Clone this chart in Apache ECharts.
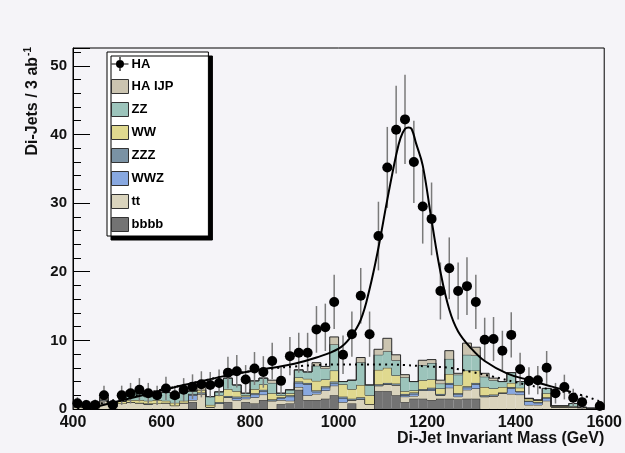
<!DOCTYPE html>
<html style="height: 100%">
<head>
  <meta charset="utf-8">
</head>
<body style="height: 100%; margin: 0; background: #f5f4f8">
  <div id="container" style="width: 625px; height: 453px"></div>
  <script src="https://cdn.jsdelivr.net/npm/echarts@6/dist/echarts.min.js"></script>
  <script>
    // bins: 20 GeV wide, 400 .. 1600
    var binLow = [];
    for (var e = 400; e < 1600; e += 20) binLow.push(e);
    var binWidth = 20;

    // stacked backgrounds, bottom to top
    var bbbb = [0,0,0,0,0,0,0,0,0,0, 0,0,0,1.0,0,0,0,1.0,0,1.0, 0.8,1.3,0,0.7,0.8,2.8,1.3,1.3,1.5,2.0, 0,0.8,0,0,2.6,2.6,2.0,1.0,1.5,1.5, 1.3,1.5,1.5,1.4,1.5,1.5,0,0,0,0, 0,0,0,0,0,0,0,0,0,0];
    var tt = [0.3,0.25,0.2,1.2,0.4,0.8,1.0,0.9,0.7,0.8, 0.9,0.5,0.9,0.3,2.2,0.3,0.8,0.7,1.3,0.5, 0.9,0.8,1.2,0.6,0.4,0.4,0.7,0.9,1.2,1.4, 1.0,0.5,1.4,0.7,0.8,1.0,1.5,0.8,0.4,1.2, 1.4,0.5,1.6,0.4,1.3,1.5,1.8,1.9,2.3,2.2, 2.1,0.6,0.6,1.2,0.3,0.3,0.3,0.2,0.1,0.1];
    var wwz = [0,0,0,0,0,0,0,0,0,0, 0,0,0,0.7,0,0,0,0,0.3,0.3, 0.4,0.5,0,0.3,0.6,0.6,1.6,0.3,0.4,0.3, 0.6,0,0,0,0,0,0,0.2,0.3,0, 0.2,0,0.5,0.3,0.3,0.6,0,0,0,0.8, 0.4,0.5,0.3,0.4,0,0,0,0,0,0];
    var zzz = [0,0,0,0.1,0,0,0,0,0.1,0, 0,0,0,0.2,0.2,0,0.2,0.2,0.2,0, 0.2,0.2,0.2,0.1,0.2,0.2,0.2,0.2,0.2,0.3, 0.2,0.2,0.3,0,0.2,0.2,0.2,0.2,0.2,0.2, 0.2,0.2,0.2,0.2,0.2,0.2,0.2,0.2,0.1,0.2, 0.1,0.1,0.1,0.1,0,0,0,0,0,0];
    var ww = [0.15,0.1,0.1,0.1,0.2,0.3,0.3,0.4,0.4,0.5, 0.3,0.4,0.3,0,0.4,0.3,1.0,1.0,0.8,0.2, 0.6,0.8,0.9,0.3,0.3,0.6,0.6,1.4,1.0,1.6, 1.8,1.4,1.8,1.3,2.1,2.2,1.2,0.4,0.3,1.3, 1.2,0.8,1.3,1.2,2.3,1.8,1.2,0.9,0.8,0.6, 0.5,0.3,0.3,0.6,0.15,0.15,0.1,0.05,0,0];
    var zz = [0,0,0,0,0,0,1.3,1.45,0.6,1.0, 1.2,0.7,1.3,0.4,0,1.2,0.5,1.6,0.9,0.3, 1.2,0.9,1.5,0.3,0.5,1.1,1.0,2.2,1.6,3.8, 0.4,1.3,3.3,1.5,2.2,2.4,2.2,2.0,1.3,2.2, 2.4,0.7,2.2,1.5,2.3,2.2,1.5,1.2,0.8,1.5, 0.9,0.05,0,0.7,0,0,0.4,0,0,0];
    var haIjp = [0,0,0,0.3,0,0,0,0,0,0, 0,0,0,0,0.5,0,0,0,0,0, 0,0,0.4,0,0,0,0,0.45,0.3,1.1, 0,0,0.7,0,0.8,1.9,0.8,0.4,0,0.7, 0.5,0.5,1.2,0.2,1.7,1.2,0.5,0.3,0,0, 0,0,0,0,0,0,0,0,0,0];

    // HA data points at bin centres, with errors
    var haMass = [410,430,450,470,490,510,530,550,570,590, 610,630,650,670,690,710,730,750,770,790, 810,830,850,870,890,910,930,950,970,990, 1010,1030,1050,1070,1090,1110,1130,1150,1170,1190, 1210,1230,1250,1270,1290,1310,1330,1350,1370,1390, 1410,1430,1450,1470,1490,1510,1530,1550,1570,1590];
    var haVal = [0.83,0.58,0.6,2.0,0.6,2.0,2.3,2.8,2.3,2.0, 3.0,2.0,2.8,3.25,3.6,3.5,3.8,5.3,5.5,4.3, 5.9,5.4,7.0,4.1,7.7,8.2,8.2,11.6,11.9,15.6, 7.9,10.9,16.5,10.9,25.2,35.2,40.7,42.2,36.0,29.5, 27.7,17.2,20.5,17.2,17.9,15.6,10.1,10.2,8.5,10.8, 5.8,4.1,4.2,6.0,2.3,3.2,1.65,1.0,null,0.45];
    var haErr = [0.9,0.75,0.77,1.4,0.77,1.4,1.5,1.7,1.5,1.4, 1.7,1.4,1.7,1.8,1.9,1.9,1.95,2.3,2.35,2.1, 2.4,2.3,2.65,2.0,2.8,2.9,2.9,3.4,3.45,3.95, 2.8,3.3,4.05,3.3,5.0,5.9,6.4,6.5,6.0,5.4, 5.3,4.15,4.5,4.15,4.2,3.95,3.2,3.2,2.9,3.3, 2.4,2.0,2.05,2.45,1.5,1.8,1.3,1.0,null,0.67];

    // fitted curves
    var fitMass = [430,450,500,550,600,650,700,750,800,850,900,950,1000,1025,1050,1070,1090,1110,1130,1140,1150,1158,1165,1175,1190,1210,1230,1250,1270,1300,1330,1380,1430,1480,1525];
    var fitVal = [0,0.3,1.1,1.9,2.7,3.5,4.2,4.9,5.5,6.0,6.6,7.5,8.8,10.3,13.0,17.5,23.5,30.5,37.0,39.5,40.8,41.0,40.8,38.7,35.5,27.5,20.0,14.5,11.3,8.8,7.0,5.2,4.2,3.3,2.5];
    var bkgMass = [410,450,500,550,600,650,700,750,800,850,900,950,1000,1050,1100,1150,1200,1250,1300,1350,1400,1450,1500,1550,1590];
    var bkgVal = [0,0.6,1.4,2.1,2.8,3.5,4.2,4.9,5.5,5.9,6.2,6.4,6.5,6.5,6.5,6.4,6.2,6.0,5.4,4.7,3.9,3.2,2.6,2.0,1.1];

    var stackNames = ['bbbb', 'tt', 'WWZ', 'ZZZ', 'WW', 'ZZ', 'HA IJP'];
    var stackData = [bbbb, tt, wwz, zzz, ww, zz, haIjp];
    var stackColors = ['#737373', '#dad4bd', '#88a8e0', '#7a92a4', '#e0d98f', '#9cc4bb', '#cbc4b0'];

    var dom = document.getElementById('container');
    var myChart = echarts.init(dom, null, { renderer: 'canvas' });

    // histogram bin: [xLow, xHigh, base, top, previous bin's top]
    function renderBin(params, api) {
      var x0 = api.value(0), x1 = api.value(1);
      var base = api.value(2), top = api.value(3), prevTop = api.value(4);
      var pBL = api.coord([x0, base]);
      var pTR = api.coord([x1, top]);
      var pPrev = api.coord([x0, prevTop]);
      var children = [];
      if (top > base) {
        children.push({
          type: 'rect',
          shape: { x: pBL[0], y: pTR[1], width: pTR[0] - pBL[0], height: pBL[1] - pTR[1] },
          style: { fill: api.visual('color') }
        });
      }
      children.push({ type: 'line', shape: { x1: pBL[0], y1: pTR[1], x2: pTR[0], y2: pTR[1] }, style: { stroke: '#2a2a2a', lineWidth: 1 } });
      children.push({ type: 'line', shape: { x1: pBL[0], y1: pPrev[1], x2: pBL[0], y2: pTR[1] }, style: { stroke: '#2a2a2a', lineWidth: 1 } });
      return { type: 'group', children: children };
    }

    var series = [];
    var cumulative = binLow.map(function () { return 0; });
    stackData.forEach(function (vals, k) {
      var items = binLow.map(function (x, i) {
        var base = cumulative[i];
        var top = base + vals[i];
        var prevTop = i > 0 ? cumulative[i - 1] + vals[i - 1] : 0;
        return [x, x + binWidth, base, top, prevTop];
      });
      cumulative = cumulative.map(function (c, i) { return c + vals[i]; });
      series.push({
        name: stackNames[k],
        type: 'custom',
        color: stackColors[k],
        renderItem: renderBin,
        clip: true,
        z: 2 + k * 0.01,
        encode: { x: [0, 1], y: [2, 3] },
        data: items
      });
    });

    var points = [];
    haMass.forEach(function (m, i) {
      if (haVal[i] !== null) points.push([m, haVal[i], haErr[i]]);
    });

    series.push({
      name: 'errors',
      type: 'custom',
      clip: true,
      z: 5,
      encode: { x: 0, y: 1 },
      renderItem: function (params, api) {
        var x = api.value(0), y = api.value(1), err = api.value(2);
        var top = api.coord([x, y + err]);
        var bot = api.coord([x, Math.max(0, y - err)]);
        var l = api.coord([x - 10, y]);
        var r = api.coord([x + 10, y]);
        return {
          type: 'group',
          children: [
            { type: 'line', shape: { x1: top[0], y1: top[1], x2: bot[0], y2: bot[1] }, style: { stroke: '#7a7a7a', lineWidth: 1.5 } },
            { type: 'line', shape: { x1: l[0], y1: l[1], x2: r[0], y2: r[1] }, style: { stroke: '#000', lineWidth: 1 } }
          ]
        };
      },
      data: points
    });

    series.push({
      name: 'bkgfit',
      type: 'line',
      smooth: 0.4,
      symbol: 'none',
      z: 6,
      lineStyle: { color: '#000', width: 2, type: [2, 4] },
      data: bkgMass.map(function (m, i) { return [m, bkgVal[i]]; })
    });
    series.push({
      name: 'fit',
      type: 'line',
      smooth: 0.4,
      symbol: 'none',
      z: 6,
      lineStyle: { color: '#000', width: 2 },
      data: fitMass.map(function (m, i) { return [m, fitVal[i]]; })
    });
    series.push({
      name: 'HA',
      type: 'scatter',
      symbolSize: 10,
      z: 7,
      itemStyle: { color: '#000', opacity: 1 },
      data: points.map(function (p) { return [p[0], p[1]]; })
    });

    var legendData = [{
      name: 'HA',
      icon: 'path://M0,6.4H17V7.6H0Z M7.9,0H9.1V14H7.9Z M8.5,3A4,4,0,1,1,8.49,3Z',
      itemStyle: { color: '#000', borderWidth: 0, opacity: 1 }
    }];
    for (var k = stackNames.length - 1; k >= 0; k--) {
      legendData.push({
        name: stackNames[k],
        icon: 'rect',
        itemStyle: { color: stackColors[k], borderColor: '#333', borderWidth: 1 }
      });
    }

    var font = 'Liberation Sans, Arial, sans-serif';

    var option = {
      backgroundColor: '#f5f4f8',
      animation: false,
      textStyle: { fontFamily: font },
      grid: {
        left: 73, right: 15, top: 48, bottom: 44,
        show: true, borderColor: '#000', borderWidth: 1,
        backgroundColor: '#f5f4f8'
      },
      legend: {
        orient: 'vertical',
        left: 107,
        top: 52,
        padding: [5, 35, 4, 4],
        itemWidth: 17,
        itemHeight: 14,
        itemGap: 8,
        selectedMode: false,
        backgroundColor: '#ffffff',
        borderColor: '#000',
        borderWidth: 1,
        shadowColor: '#000',
        shadowBlur: 0,
        shadowOffsetX: 4,
        shadowOffsetY: 4,
        textStyle: { fontFamily: font, fontWeight: 'bold', fontSize: 13, color: '#000', padding: [0, 0, 0, -2] },
        data: legendData
      },
      xAxis: {
        type: 'value',
        min: 400,
        max: 1600,
        interval: 200,
        name: 'Di-Jet Invariant Mass (GeV)',
        nameLocation: 'end',
        nameGap: 0,
        nameTextStyle: {
          fontFamily: font, fontWeight: 'bold', fontSize: 16, color: '#111',
          align: 'right', verticalAlign: 'top', padding: [22, 0, 0, 0]
        },
        axisLine: { lineStyle: { color: '#000', width: 1 } },
        axisTick: { show: false },
        splitLine: { show: false },
        axisLabel: {
          fontFamily: font, fontWeight: 'bold', fontSize: 16, color: '#111', margin: 6,
          formatter: function (v) { return String(v); }
        }
      },
      yAxis: {
        type: 'value',
        min: 0,
        max: 52.6,
        interval: 10,
        axisLine: { show: true, lineStyle: { color: '#000', width: 1 } },
        axisTick: { show: true, inside: true, length: 17, lineStyle: { color: '#000' } },
        minorTick: { show: true, splitNumber: 5, length: 8, lineStyle: { color: '#000' } },
        splitLine: { show: false },
        axisLabel: { fontFamily: font, fontWeight: 'bold', fontSize: 15, color: '#111', margin: 6, showMaxLabel: false }
      },
      graphic: [{
        type: 'text',
        x: 33,
        y: 47,
        rotation: Math.PI / 2,
        style: {
          text: 'Di-Jets / 3 ab{sup|-1}',
          fill: '#111',
          font: 'bold 16px ' + font,
          align: 'right',
          verticalAlign: 'middle',
          rich: {
            sup: { fontSize: 10, fontWeight: 'bold', fontFamily: font, fill: '#111', padding: [0, 0, 9, 1] }
          }
        }
      }],
      series: series
    };

    myChart.setOption(option);
    window.addEventListener('resize', myChart.resize);
  </script>
</body>
</html>
